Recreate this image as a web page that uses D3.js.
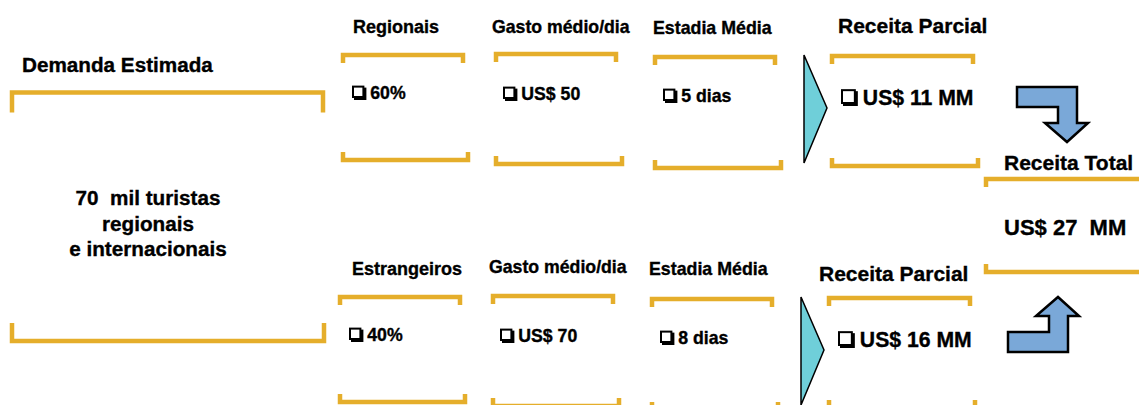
<!DOCTYPE html>
<html>
<head>
<meta charset="utf-8">
<script src="https://cdn.jsdelivr.net/npm/d3@7"></script>
<style>
  html, body { margin: 0; padding: 0; background: #fff; }
  svg { display: block; font-family: "Liberation Sans", Arial, sans-serif; font-weight: bold; }
  text { white-space: pre; stroke: #000; stroke-width: 0.35px; }
</style>
</head>
<body>
<div id="chart"></div>
<script>
// values
const segments = ["Regionais", "Estrangeiros"];
const shares = ["60%", "40%"];
const spendPerDay = ["US$ 50", "US$ 70"];
const stayLength = ["5 dias", "8 dias"];
const partialRevenue = ["US$ 11 MM", "US$ 16 MM"];
const columnTitles = ["Gasto médio/dia", "Estadia Média", "Receita Parcial"];
const demandTitle = "Demanda Estimada";
const demandLines = ["70  mil turistas", "regionais", "e internacionais"];
const totalTitle = "Receita Total";
const totalRevenue = "US$ 27  MM";

let width = 1139, height = 405;
let gold = "#e5ae2b", teal = "#6fcfd9", blue = "#7aa8d8";

let svg = d3.select("#chart").append("svg")
  .attr("width", width).attr("height", height);

// row offsets (the second row sits 242px lower and a bit to the left)
let rowY = d3.scaleOrdinal().domain(segments).range([0, 242]);
let rowX = d3.scaleOrdinal().domain(segments).range([0, -3]);

function bracket(x0, x1, y, dir, tick) {
  return "M" + x0 + "," + (y + dir * tick) + "L" + x0 + "," + y +
    "L" + x1 + "," + y + "L" + x1 + "," + (y + dir * tick);
}

function drawBracket(g, x0, x1, y, dir, tick) {
  g.append("path")
    .attr("d", bracket(x0, x1, y, dir, tick || 8))
    .attr("fill", "none")
    .attr("stroke", gold)
    .attr("stroke-width", 4.5)
    .attr("stroke-linejoin", "miter");
}

function checkItem(g, x, y, size, label) {
  let b = size * 0.7;
  g.append("rect").attr("x", x + 2).attr("y", y - b + 1)
    .attr("width", b).attr("height", b).attr("fill", "#000");
  g.append("rect").attr("x", x + 1).attr("y", y - b)
    .attr("width", b - 2).attr("height", b - 2)
    .attr("fill", "#fff").attr("stroke", "#000").attr("stroke-width", 2);
  g.append("text").attr("x", x + size * 1.03).attr("y", y)
    .attr("font-size", size).text(label);
}

// left block: estimated demand
svg.append("text").attr("x", 22).attr("y", 72)
  .attr("font-size", 20.7).text(demandTitle);
drawBracket(svg, 12, 323, 92.5, 1, 20);
drawBracket(svg, 12, 324, 341, -1, 18);
svg.selectAll(".demand").data(demandLines).enter().append("text")
  .attr("class", "demand")
  .attr("x", 148)
  .attr("y", (d, i) => 205 + i * 25.5)
  .attr("text-anchor", "middle")
  .attr("font-size", 20.7)
  .text((d) => d);

// column layout for the first row
let cols = [
  { hx: [353, 352], hy: [33, 275], hs: 18, x0: 343, x1: 463, ty: 55, bx1: 468, by: 160, vx: 352, vy: 99, vs: 17.7 },
  { hx: [492, 489], hy: [33, 273], hs: 17.7, x0: 496, x1: 616, ty: 54, bx1: 622, by: 164, vx: 503, vy: 100, vs: 17.7 },
  { hx: [653, 649], hy: [34, 275], hs: 17.8, x0: 655, x1: 775, ty: 57, bx1: 781, by: 168, vx: 663, vy: 102, vs: 17.7 },
  { hx: [838, 819], hy: [33, 281], hs: 21, x0: 832, x1: 973, ty: 56, bx1: 978, by: 166, vx: 841, vy: 105, vs: 21.2 },
];

segments.forEach(function (seg, r) {
  let dy = rowY(seg), dx = rowX(seg);
  let titles = [seg].concat(columnTitles);
  let values = [shares[r], spendPerDay[r], stayLength[r], partialRevenue[r]];
  let g = svg.append("g").attr("class", "row");

  cols.forEach(function (c, i) {
    g.append("text").attr("x", c.hx[r]).attr("y", c.hy[r])
      .attr("font-size", c.hs).text(titles[i]);
    drawBracket(g, c.x0 + dx, c.x1 + dx, c.ty + dy, 1);
    drawBracket(g, c.x0 + dx, c.bx1 + dx, c.by + dy, -1);
    checkItem(g, c.vx + dx, c.vy + dy, c.vs, values[i]);
  });

  // teal pointer before partial revenue
  let tx = 804 + dx, ty = 55 + dy;
  g.append("path")
    .attr("d", "M" + tx + "," + ty + "L" + (tx + 23) + "," + (ty + 53) + "L" + tx + "," + (ty + 108) + "Z")
    .attr("fill", teal).attr("stroke", "#000").attr("stroke-width", 1.5);
});

// bent arrows to the total
function bentArrow(x, y, flip) {
  // shape drawn for the downward arrow, mirrored vertically for the upward one
  let pts = [[0, 0], [60, 0], [60, 36], [71, 36], [50, 55], [28, 36], [41, 36], [41, 20], [0, 20]];
  return "M" + pts.map((p) => (x + p[0]) + "," + (y + (flip ? -p[1] : p[1]))).join("L") + "Z";
}
svg.append("path").attr("d", bentArrow(1017, 87, false))
  .attr("fill", blue).attr("stroke", "#000").attr("stroke-width", 2.5);
svg.append("path").attr("d", bentArrow(1008, 352, true))
  .attr("fill", blue).attr("stroke", "#000").attr("stroke-width", 2.5);

// total revenue block
svg.append("text").attr("x", 1004).attr("y", 170)
  .attr("font-size", 21).text(totalTitle);
drawBracket(svg, 986, 1145, 179, 1);
drawBracket(svg, 986, 1145, 272, -1);
svg.append("text").attr("x", 1004).attr("y", 235)
  .attr("font-size", 22).text(totalRevenue);
</script>
</body>
</html>
